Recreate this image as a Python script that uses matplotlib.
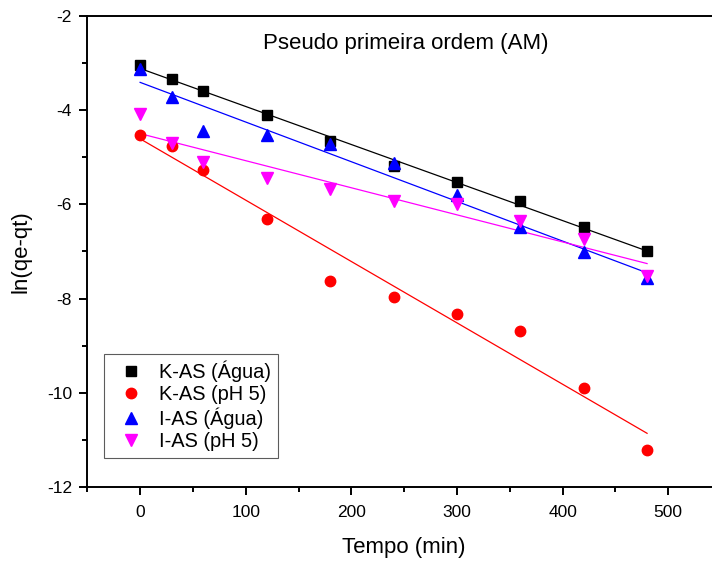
import numpy as np
import matplotlib
matplotlib.use("Agg")
import matplotlib.pyplot as plt
from matplotlib.ticker import MultipleLocator

plt.rcParams['font.family'] = ['Liberation Sans', 'DejaVu Sans']
plt.rcParams['axes.unicode_minus'] = False

tempo = [0, 30, 60, 120, 180, 240, 300, 360, 420, 480]
k_as_agua = [-3.04, -3.34, -3.59, -4.10, -4.65, -5.18, -5.52, -5.93, -6.47, -7.00]
k_as_ph5 = [-4.53, -4.77, -5.26, -6.31, -7.63, -7.97, -8.33, -8.69, -9.90, -11.21]
i_as_agua = [-3.13, -3.71, -4.44, -4.53, -4.72, -5.13, -5.80, -6.49, -7.02, -7.57]
i_as_ph5 = [-4.08, -4.70, -5.11, -5.45, -5.68, -5.93, -5.99, -6.35, -6.74, -7.53]

labels = ['K-AS (Água)', 'K-AS (pH 5)', 'I-AS (Água)', 'I-AS (pH 5)']
series = [k_as_agua, k_as_ph5, i_as_agua, i_as_ph5]
colors = ['#000000', '#ff0000', '#0000ff', '#ff00ff']
markers = ['s', 'o', '^', 'v']
msizes = [7, 7.5, 8, 8]

fig = plt.figure(figsize=(7.12, 5.61), dpi=100)
ax = fig.add_axes([87.3/712, 1-487/561, (721-87.3)/712, (487-16)/561])

x = np.array(tempo, dtype=float)
handles = []
for ys, c, m, ms, lab in zip(series, colors, markers, msizes, labels):
    ys = np.array(ys)
    h, = ax.plot(x, ys, linestyle='none', marker=m, color=c, markersize=ms, label=lab, zorder=3)
    handles.append(h)
    p = np.polyfit(x, ys, 1)
    xf = np.array([x.min(), x.max()])
    ax.plot(xf, np.polyval(p, xf), color=c, linewidth=0.9, zorder=2)

ax.set_xlim(-50, 550)
ax.set_ylim(-12, -2)
ax.xaxis.set_major_locator(MultipleLocator(100))
ax.xaxis.set_minor_locator(MultipleLocator(50))
ax.yaxis.set_major_locator(MultipleLocator(2))
ax.yaxis.set_minor_locator(MultipleLocator(1))
ax.tick_params(which='major', direction='out', length=6, width=1.4, labelsize=12.5, pad=5)
ax.tick_params(axis='x', which='major', pad=7)
ax.tick_params(which='minor', direction='out', length=3.5, width=1.4)
for s in ax.spines.values():
    s.set_linewidth(1.4)

ax.set_xlabel('Tempo (min)', fontsize=16, labelpad=12)
ax.set_ylabel('ln(qe-qt)', fontsize=16, labelpad=11)
ax.text(0.502, 0.941, 'Pseudo primeira ordem (AM)', transform=ax.transAxes,
        ha='center', va='center', fontsize=16)

leg = ax.legend(handles=handles, loc='upper left', bbox_to_anchor=(0.0264, 0.2824),
                fontsize=14.4, frameon=True, fancybox=False, borderaxespad=0,
                handlelength=2.0, handletextpad=0.42, labelspacing=0.15,
                borderpad=0.35, edgecolor='#333333')
leg.get_frame().set_linewidth(0.8)

fig.savefig('out.png', dpi=100)
